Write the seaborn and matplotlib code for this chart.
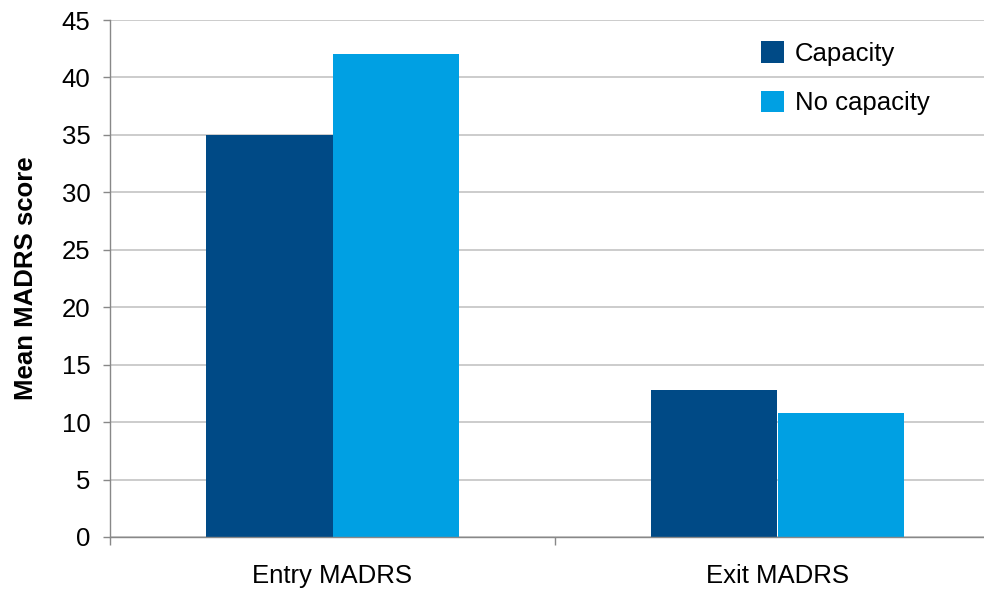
import matplotlib
matplotlib.use("Agg")
import matplotlib.pyplot as plt
import seaborn as sns
import pandas as pd
from matplotlib.patches import Patch
from matplotlib.ticker import FixedLocator, NullFormatter

# Mean MADRS scores by timepoint and capacity group
timepoints = ["Entry MADRS", "Exit MADRS"]
groups = ["Capacity", "No capacity"]
capacity_scores = [35.0, 12.8]
no_capacity_scores = [42.0, 10.8]
y_ticks = [0, 5, 10, 15, 20, 25, 30, 35, 40, 45]

colors = {"Capacity": "#004A86", "No capacity": "#00A0E3"}

df = pd.DataFrame({
    "timepoint": timepoints * 2,
    "group": [groups[0]] * len(timepoints) + [groups[1]] * len(timepoints),
    "score": capacity_scores + no_capacity_scores,
})

sns.set_theme(style="white")
plt.rcParams["font.family"] = ["Liberation Sans", "DejaVu Sans"]
plt.rcParams["text.color"] = "#000000"
plt.rcParams["axes.labelcolor"] = "#000000"

W, H = 984, 589
fig = plt.figure(figsize=(W / 100, H / 100), dpi=100)
ax = fig.add_axes([110 / W, 52 / H, 890 / W, 517 / H])

sns.barplot(data=df, x="timepoint", y="score", hue="group", order=timepoints,
            hue_order=groups, palette=colors, saturation=1, width=0.57,
            gap=0, linewidth=0, errorbar=None, legend=False, ax=ax)

ax.set_ylim(0, 45)
ax.set_xlim(-0.5, 1.5)
ax.set_yticks(y_ticks)
ax.set_yticklabels([str(t) for t in y_ticks], fontsize=18.5, color="#000000")
ax.yaxis.grid(True, color="#BEBEBE", linewidth=1.1)
ax.set_axisbelow(True)

ax.set_xticks(range(len(timepoints)))
ax.set_xticklabels(timepoints, fontsize=18.5, color="#000000")
ax.xaxis.set_minor_locator(FixedLocator([-0.5, 0.5, 1.5]))
ax.xaxis.set_minor_formatter(NullFormatter())
ax.tick_params(axis="x", which="major", length=0, pad=19.5)
ax.tick_params(axis="x", which="minor", length=6, width=1, color="#888888", bottom=True)
ax.tick_params(axis="y", which="major", length=5, width=1, color="#888888", left=True, pad=9)

ax.set_xlabel("")
ax.set_ylabel("Mean MADRS score", fontsize=18.5, fontweight="bold", labelpad=17,
              color="#000000")

for side in ["top", "right"]:
    ax.spines[side].set_visible(False)
for side in ["left", "bottom"]:
    ax.spines[side].set_color("#888888")
    ax.spines[side].set_linewidth(1)

handles = [Patch(facecolor=colors[g], edgecolor="none", label=g) for g in groups]
fig.legend(handles=handles, loc="upper left", bbox_to_anchor=(751 / W, 1 - 31 / H),
           frameon=False, fontsize=18.5, handlelength=0.9, handleheight=0.9,
           handletextpad=0.4, labelspacing=0.97, borderaxespad=0,
           labelcolor="#000000")

fig.savefig("out.png", dpi=100, facecolor="white")
